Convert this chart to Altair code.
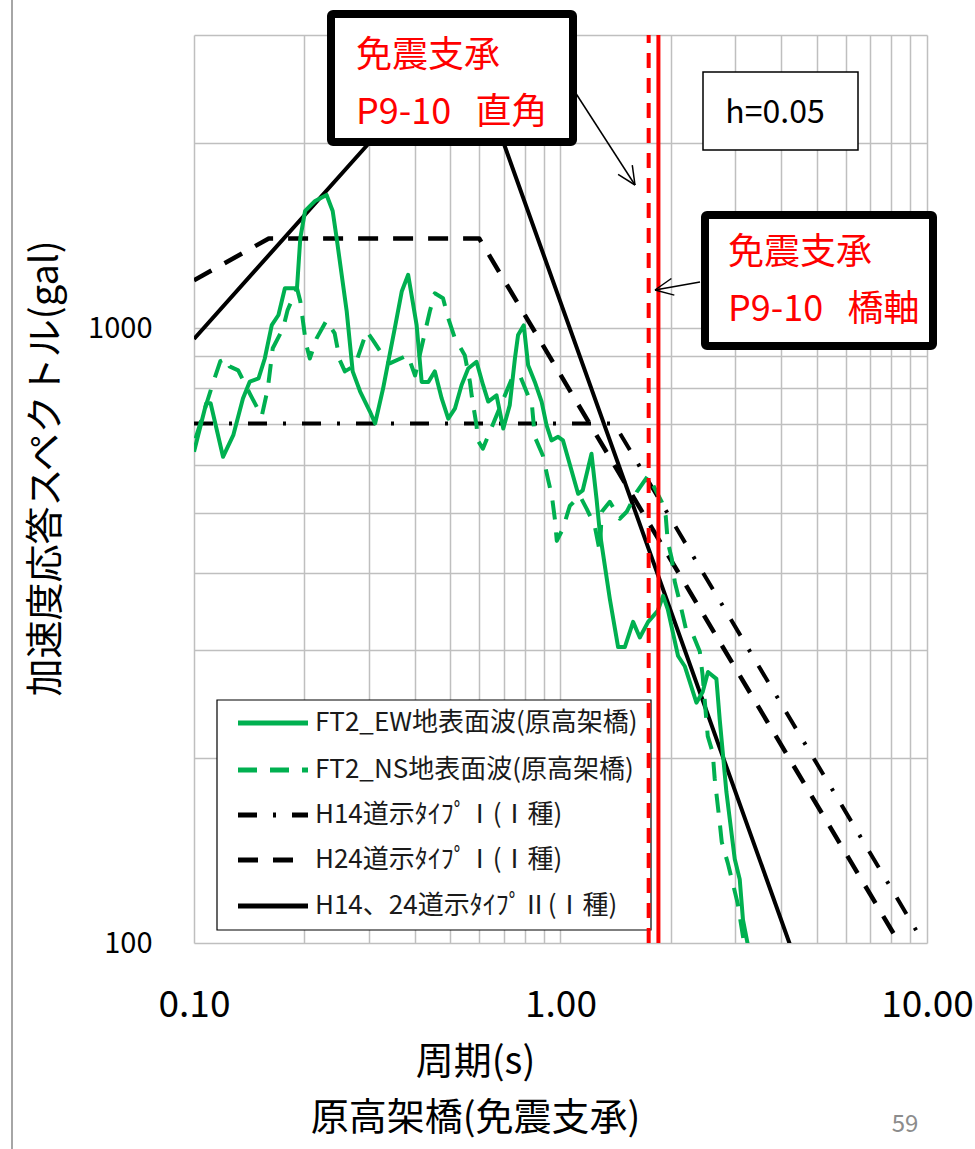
import altair as alt
import numpy as np
import pandas as pd

# ---------------- data ----------------
# FT2_EW 地表面波 (solid green): period T [s], Sa [gal]
ew_T = [0.100, 0.108, 0.111, 0.120, 0.128, 0.136, 0.142, 0.150, 0.156, 0.163,
        0.170, 0.177, 0.191, 0.195, 0.201, 0.214, 0.230, 0.239, 0.245, 0.261,
        0.271, 0.284, 0.302, 0.312, 0.328, 0.353, 0.369, 0.384, 0.405, 0.418,
        0.436, 0.454, 0.474, 0.494, 0.515, 0.537, 0.560, 0.590, 0.615, 0.635,
        0.669, 0.698, 0.727, 0.751, 0.766, 0.794, 0.816, 0.851, 0.888, 0.916,
        0.945, 0.985, 1.016, 1.117, 1.150, 1.215, 1.254, 1.280, 1.363, 1.436,
        1.498, 1.578, 1.646, 1.734, 1.842, 1.905, 1.962, 2.093, 2.183, 2.349,
        2.443, 2.526, 2.663, 2.719, 2.836, 2.988, 3.083, 3.147, 3.248]
ew_S = [630, 755, 755, 618, 670, 769, 819, 829, 893, 1012,
        1051, 1162, 1162, 1402, 1552, 1611, 1648, 1552, 1402, 1066,
        851, 789, 732, 700, 798, 1000, 1149, 1222, 1012, 818,
        818, 851, 769, 713, 740, 808, 860, 882, 808, 760,
        778, 687, 750, 893, 975, 1011, 871, 818, 760, 696,
        657, 666, 657, 538, 545, 625, 528, 466, 363, 303,
        303, 333, 314, 333, 347, 367, 349, 293, 282, 246,
        256, 276, 269, 231, 176, 137, 127, 109, 99]

# FT2_NS 地表面波 (dashed green)
ns_T = [0.101, 0.113, 0.118, 0.123, 0.125, 0.132, 0.142, 0.153, 0.159, 0.164,
        0.175, 0.180, 0.191, 0.195, 0.202, 0.207, 0.216, 0.230, 0.242, 0.250,
        0.258, 0.275, 0.296, 0.308, 0.332, 0.342, 0.383, 0.401, 0.440, 0.454,
        0.478, 0.494, 0.515, 0.548, 0.566, 0.573, 0.590, 0.595, 0.614, 0.635,
        0.741, 0.775, 0.816, 0.835, 0.851, 0.895, 0.924, 0.947, 0.965, 0.977,
        1.015, 1.060, 1.129, 1.180, 1.240, 1.280, 1.296, 1.363, 1.451, 1.516,
        1.615, 1.734, 1.889, 1.937, 1.962, 2.012, 2.050, 2.115, 2.210, 2.295,
        2.399, 2.443, 2.522, 2.602, 2.635, 2.719, 2.754, 2.860, 2.933, 3.044,
        3.181]
ns_S = [662, 819, 884, 893, 867, 854, 783, 719, 798, 928,
        1000, 1070, 1162, 1107, 945, 893, 963, 1030, 981, 887,
        851, 870, 989, 956, 893, 877, 904, 838, 1066, 1140,
        1119, 1038, 963, 904, 819, 774, 695, 657, 637, 669,
        835, 838, 777, 755, 666, 621, 569, 534, 490, 451,
        472, 514, 534, 508, 477, 433, 503, 522, 490, 503,
        542, 576, 522, 495, 449, 422, 387, 359, 320, 318,
        298, 272, 217, 204, 185, 157, 146, 135, 127, 116,
        98.5]

# design spectra (corner points)
h14_typeI_T = [0.1, 1.4, 10.0]
h14_typeI_S = [700, 700, 98]
h24_typeI_T = [0.1, 0.16, 0.6, 10.0]
h24_typeI_S = [1197, 1400, 1400, 84]
typeII_T = [0.1, 0.3, 0.7, 4.4]
typeII_S = [961, 2000, 2000, 93]

# isolated-bearing periods (red vertical lines)
period_right_angle = 1.74   # 直角 (dashed)
period_bridge_axis = 1.85   # 橋軸 (solid)
rule_S = [100, 3000]

legend_labels = ["FT2_EW地表面波(原高架橋)", "FT2_NS地表面波(原高架橋)",
                 "H14道示ﾀｲﾌﾟⅠ(Ⅰ種)", "H24道示ﾀｲﾌﾟⅠ(Ⅰ種)",
                 "H14、24道示ﾀｲﾌﾟⅡ(Ⅰ種)"]
x_grid = [0.1, 0.2, 0.3, 0.4, 0.5, 0.6, 0.7, 0.8, 0.9, 1, 2, 3, 4, 5, 6, 7, 8, 9, 10]
y_grid = [100, 200, 300, 400, 500, 600, 700, 800, 900, 1000, 2000, 3000]

# ---------------- layout / style ----------------
FONT = "Noto Sans CJK JP"
L0, T0 = 194, 35          # plot origin on the page
W, H = 733, 908
GREEN = "#00B050"
RED = "#FF0000"


def px(x):
    return x - L0


def py(y):
    return y - T0


blank = alt.Data(values=[{"k": 1}])

x_scale = alt.Scale(type="log", domain=[0.1, 10], nice=False)
y_scale = alt.Scale(type="log", domain=[100, 3000], nice=False)

x_axis = alt.Axis(
    values=x_grid, grid=True, gridColor="#BFBFBF", gridWidth=1.5,
    domain=False, ticks=False,
    labelExpr="datum.value == 0.1 ? '0.10' : datum.value == 1 ? '1.00' : datum.value == 10 ? '10.00' : ''",
    labelFont=FONT, labelFontSize=37, labelColor="black", labelPadding=44,
    labelFlush=False, labelOverlap=False,
    title=["周期(s)", "原高架橋(免震支承)"], titleFont=FONT, titleFontSize=38,
    titleFontWeight="normal", titleColor="black", titleX=281, titleY=100,
    titleBaseline="top", titleAlign="center", titleLineHeight=56)

y_axis = alt.Axis(
    values=y_grid, grid=True, gridColor="#BFBFBF", gridWidth=1.5,
    domain=False, ticks=False,
    labelExpr="datum.value == 100 ? '100' : datum.value == 1000 ? '1000' : ''",
    labelFont=FONT, labelFontSize=29, labelColor="black", labelPadding=42,
    labelOverlap=False,
    title="加速度応答スペクトル(gal)", titleFont=FONT, titleFontSize=38,
    titleFontWeight="normal", titleColor="black", titleAngle=270,
    titleX=-148, titleY=433, titleBaseline="middle", titleAlign="center")


def curve(T, S, color, width, dash=None):
    df = pd.DataFrame({"T": T, "S": S, "i": np.arange(len(T))})
    kw = dict(color=color, strokeWidth=width, clip=True, strokeJoin="round")
    if dash:
        kw["strokeDash"] = dash
    return alt.Chart(df).mark_line(**kw).encode(
        x=alt.X("T:Q", scale=x_scale, axis=x_axis),
        y=alt.Y("S:Q", scale=y_scale, axis=y_axis),
        order="i:Q")


def vrule(Tv, dash=None):
    df = pd.DataFrame({"T": [Tv], "S0": [rule_S[0]], "S1": [rule_S[1]]})
    kw = dict(color=RED, strokeWidth=4)
    if dash:
        kw["strokeDash"] = dash
    return alt.Chart(df).mark_rule(**kw).encode(
        x=alt.X("T:Q", scale=x_scale, axis=x_axis),
        y=alt.Y("S0:Q", scale=y_scale, axis=y_axis),
        y2="S1:Q")


def box(x1, x2, y1, y2, sw, radius=0):
    return alt.Chart(blank).mark_rect(fill="white", stroke="black", strokeWidth=sw,
                                      cornerRadius=radius).encode(
        x=alt.value(px(x1)), x2=alt.value(px(x2)),
        y=alt.value(py(y1)), y2=alt.value(py(y2)))


def label(txt, x, y, size, color="black", align="left"):
    return alt.Chart(blank).mark_text(text=txt, font=FONT, fontSize=size, color=color,
                                      align=align, baseline="middle").encode(
        x=alt.value(px(x)), y=alt.value(py(y)))


def seg(x1, y1, x2, y2, color="black", width=1.5, dash=None):
    kw = dict(color=color, strokeWidth=width)
    if dash:
        kw["strokeDash"] = dash
    return alt.Chart(blank).mark_rule(**kw).encode(
        x=alt.value(px(x1)), y=alt.value(py(y1)),
        x2=alt.value(px(x2)), y2=alt.value(py(y2)))


def arrow(start, tip, head=20, ang=25):
    sx, sy = start
    tx, ty = tip
    v = np.array([sx - tx, sy - ty], dtype=float)
    v /= np.linalg.norm(v)
    out = [seg(sx, sy, tx, ty)]
    for a in (np.radians(ang), -np.radians(ang)):
        c, s = np.cos(a), np.sin(a)
        w = np.array([v[0] * c - v[1] * s, v[0] * s + v[1] * c]) * head
        out.append(seg(tx, ty, tx + w[0], ty + w[1]))
    return out


styles = [
    (GREEN, 4, None),
    (GREEN, 4, [19, 13]),
    ("black", 4, [19, 16, 3, 16]),
    ("black", 4.5, [20, 15]),
    ("black", 4, None),
]

layers = []
# slide frame line on the left
layers.append(seg(12, 0, 12, 1149, color="#A6A6A6", width=2))

# legend (drawn by hand so the red lines can pass over it)
layers.append(box(217, 651, 700, 930, 1.2))
legend_rows = [723, 770, 815, 860, 906]
for (col, wd, dsh), lab, ry in zip(styles, legend_labels, legend_rows):
    layers.append(seg(238, ry, 308, ry, color=col, width=5, dash=dsh))
    layers.append(label(lab, 315, ry, 26, color="#1a1a1a"))

# design spectra
layers.append(curve(h14_typeI_T, h14_typeI_S, *styles[2][:2], dash=styles[2][2]))
layers.append(curve(h24_typeI_T, h24_typeI_S, *styles[3][:2], dash=styles[3][2]))
layers.append(curve(typeII_T, typeII_S, *styles[4][:2]))
# observed spectra
layers.append(curve(ns_T, ns_S, *styles[1][:2], dash=styles[1][2]))
layers.append(curve(ew_T, ew_S, *styles[0][:2]))
# isolated periods
layers.append(vrule(period_right_angle, dash=[15, 10]))
layers.append(vrule(period_bridge_axis))

# callout boxes
NB = "\u00a0\u00a0\u00a0"
layers.append(box(331, 573, 14, 142, 8, radius=2))
layers.append(label("免震支承", 356, 56, 36, color=RED))
layers.append(label("P9-10" + NB + "直角", 356, 113, 36, color=RED))
layers += arrow((575, 92), (635, 185))

layers.append(box(703, 858, 72, 150, 1.5))
layers.append(label("h=0.05", 775, 113, 32, align="center"))

layers.append(box(705, 933, 215, 346, 8, radius=2))
layers.append(label("免震支承", 728, 253, 36, color=RED))
layers.append(label("P9-10" + NB + "橋軸", 728, 310, 36, color=RED))
layers += arrow((700, 282), (655, 290))

# page number
layers.append(label("59", 905, 1125, 24, color="#8C8C8C", align="center"))

chart = alt.layer(*layers).properties(
    width=W, height=H,
    autosize=alt.AutoSizeParams(type="none"),
    padding={"left": L0, "top": T0, "right": 975 - L0 - W, "bottom": 1149 - T0 - H},
    background="white",
).configure_view(stroke=None)

chart.save("out.html", embed_options={"renderer": "svg", "actions": False})
